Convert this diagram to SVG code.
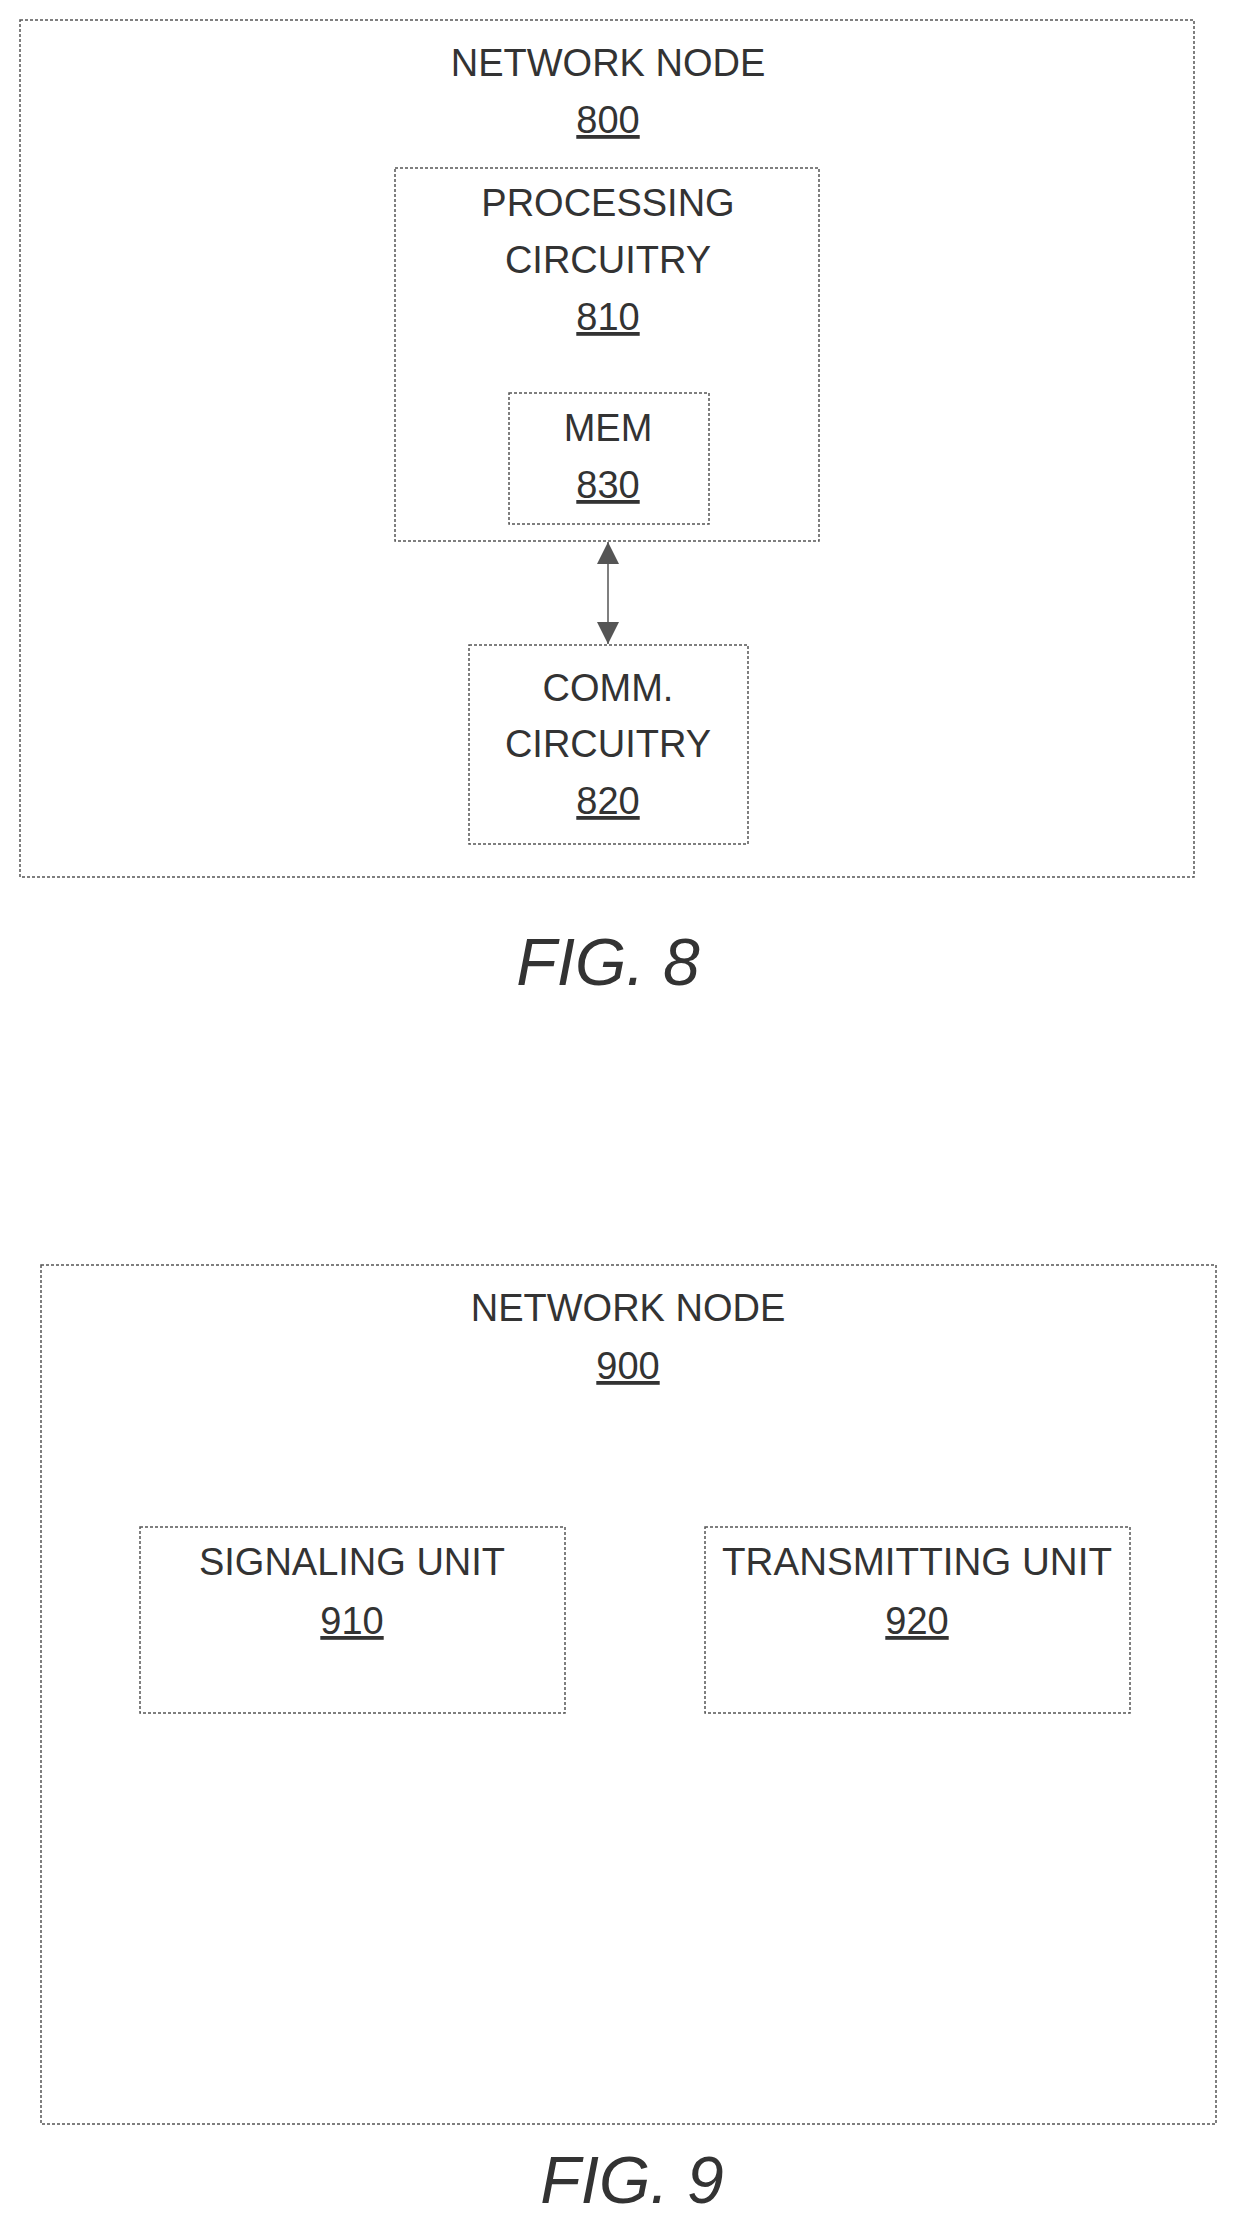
<svg xmlns="http://www.w3.org/2000/svg" width="1233" height="2232" viewBox="0 0 1233 2232">
<style>
.b{fill:none;stroke:#555;stroke-width:1.5;stroke-dasharray:3,2}
.t{font-family:"Liberation Sans",Arial,sans-serif;font-size:38px;fill:#333;text-anchor:middle}
.u{text-decoration:underline}
.f{font-family:"Liberation Sans",Arial,sans-serif;font-size:66px;font-style:italic;fill:#333;text-anchor:middle}
</style>
<defs>
<marker id="a" viewBox="0 0 10 10" refX="10" refY="5" markerWidth="22" markerHeight="22" markerUnits="userSpaceOnUse" orient="auto-start-reverse"><path d="M0,0L10,5L0,10z" fill="#555"/></marker>
</defs>
<rect width="1233" height="2232" fill="#fff"/>
<g id="n800"><rect class="b" x="20" y="20" width="1174" height="857"/>
<text class="t" x="608" y="76">NETWORK NODE</text><text class="t u" x="608" y="133">800</text></g>
<g id="n810"><rect class="b" x="395" y="168" width="424" height="373"/>
<text class="t" x="608" y="216">PROCESSING</text><text class="t" x="608" y="273">CIRCUITRY</text><text class="t u" x="608" y="330">810</text></g>
<g id="n830"><rect class="b" x="509" y="393" width="200" height="131"/>
<text class="t" x="608" y="441">MEM</text><text class="t u" x="608" y="498">830</text></g>
<g id="n820"><rect class="b" x="469" y="645" width="279" height="199"/>
<text class="t" x="608" y="701">COMM.</text><text class="t" x="608" y="757">CIRCUITRY</text><text class="t u" x="608" y="814">820</text></g>
<g id="connectors"><line x1="608" y1="542" x2="608" y2="644" stroke="#555" stroke-width="1.5" marker-start="url(#a)" marker-end="url(#a)"/></g>
<text class="f" x="608" y="985">FIG. 8</text>
<g id="n900"><rect class="b" x="41" y="1265" width="1175" height="859"/>
<text class="t" x="628" y="1321">NETWORK NODE</text><text class="t u" x="628" y="1379">900</text></g>
<g id="n910"><rect class="b" x="140" y="1527" width="425" height="186"/>
<text class="t" x="352" y="1575">SIGNALING UNIT</text><text class="t u" x="352" y="1634">910</text></g>
<g id="n920"><rect class="b" x="705" y="1527" width="425" height="186"/>
<text class="t" x="917" y="1575" textLength="390" lengthAdjust="spacingAndGlyphs">TRANSMITTING UNIT</text><text class="t u" x="917" y="1634">920</text></g>
<text class="f" x="632" y="2203">FIG. 9</text>
</svg>
